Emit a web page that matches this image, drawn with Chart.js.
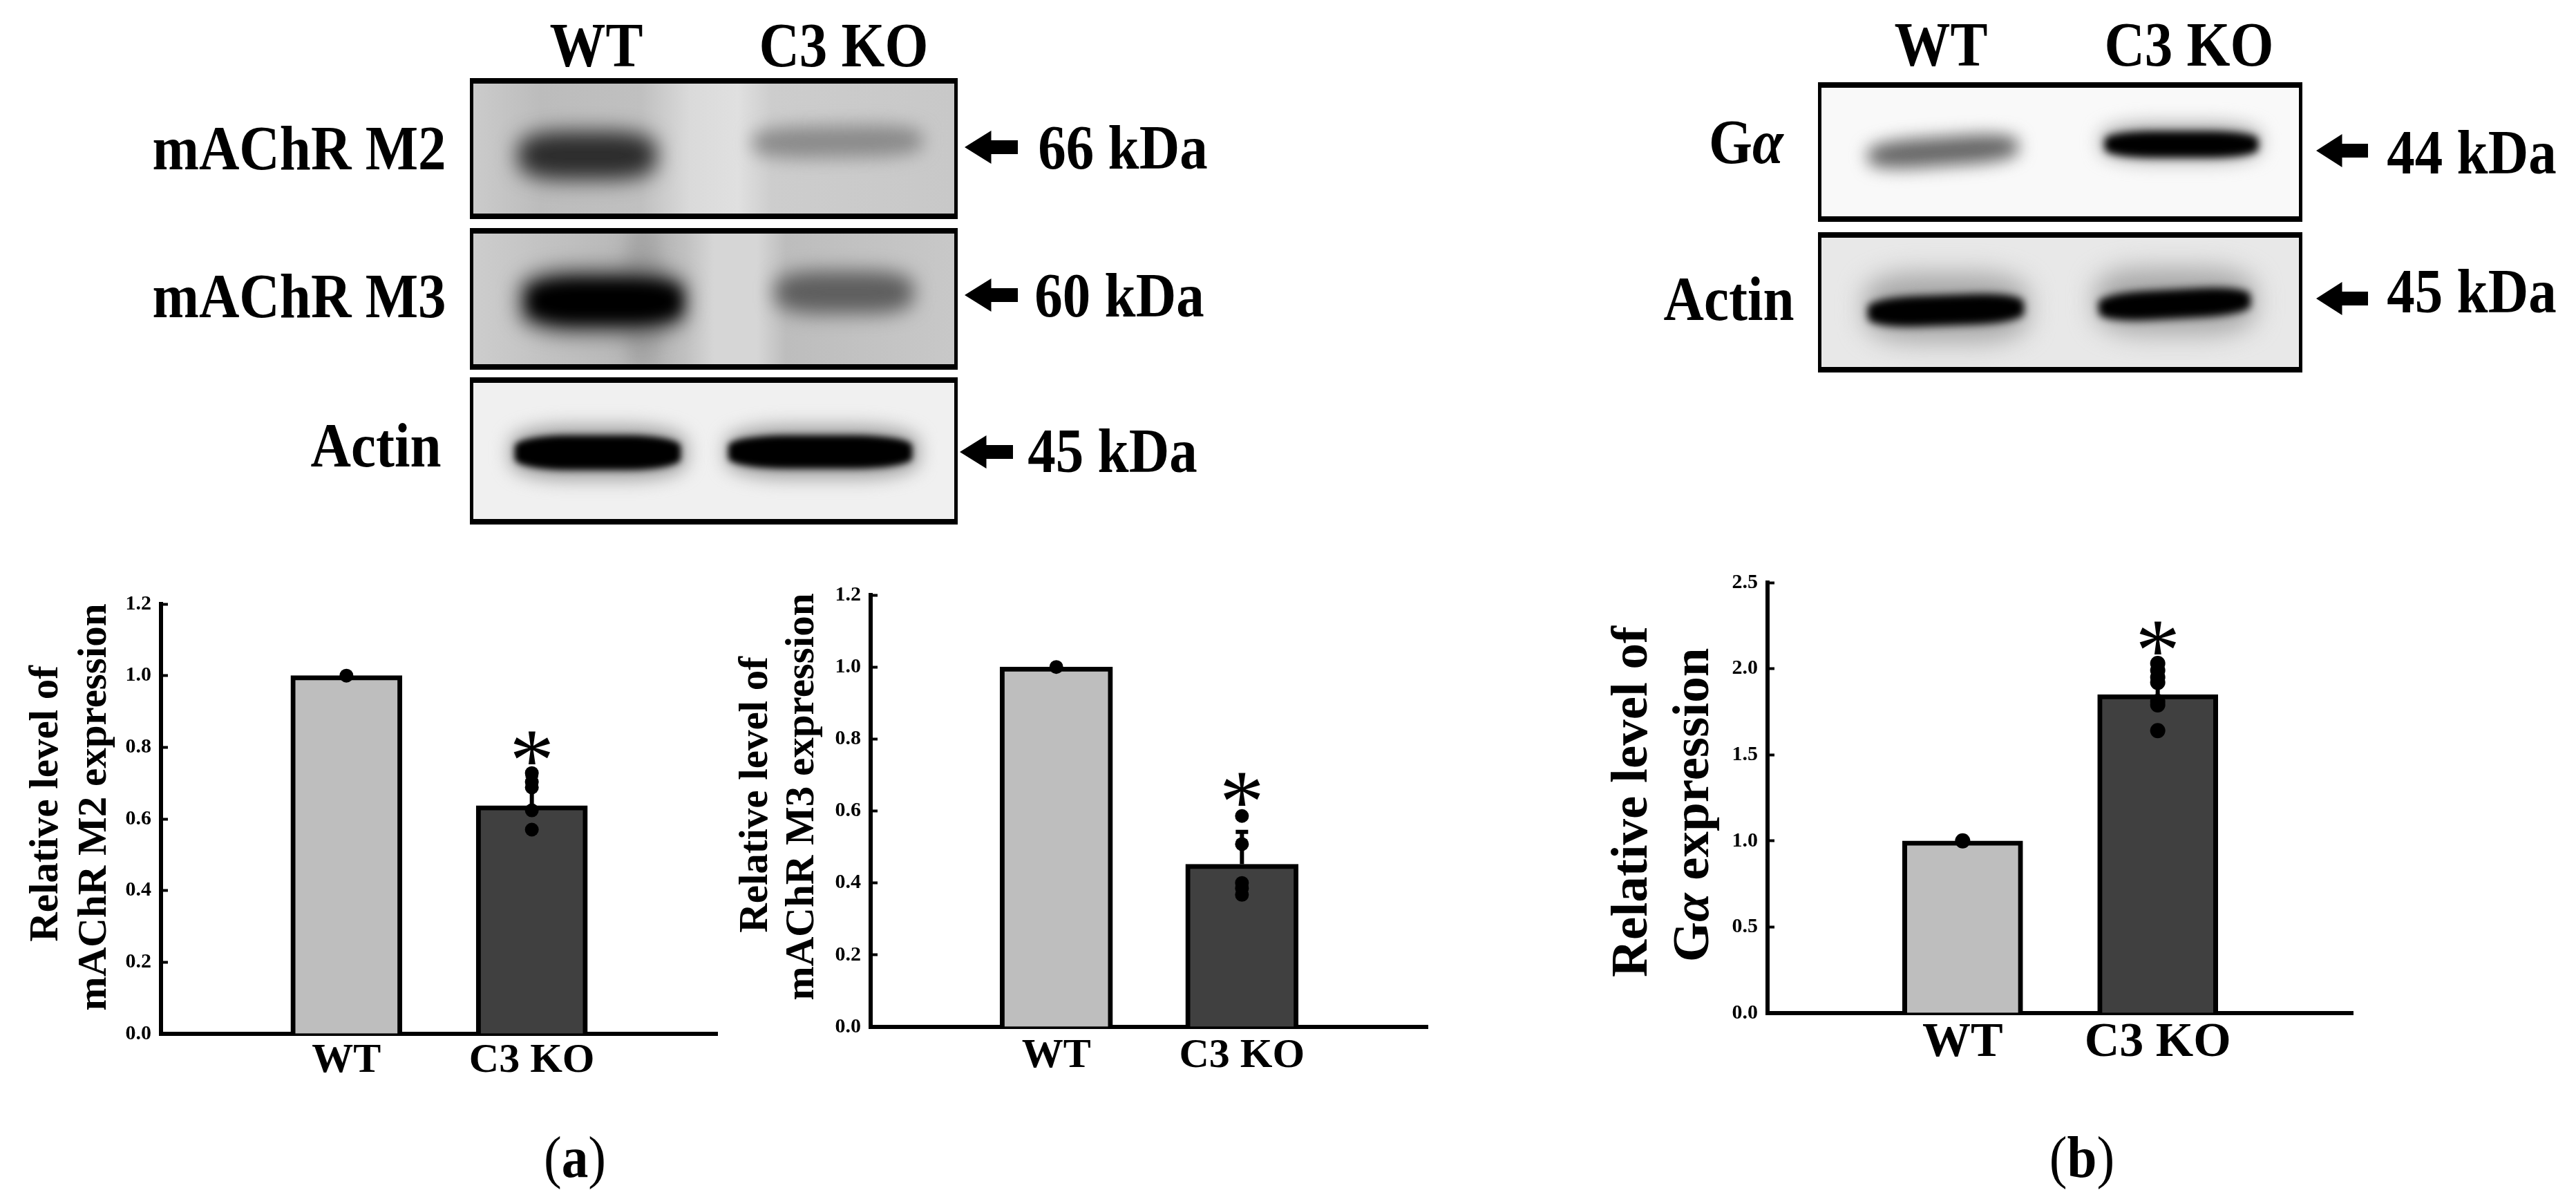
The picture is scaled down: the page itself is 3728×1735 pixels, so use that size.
<!doctype html>
<html>
<head>
<meta charset="utf-8">
<title>mAChR M2/M3 and G-alpha expression</title>
<script src="https://cdn.jsdelivr.net/npm/chart.js@4/dist/chart.umd.min.js"></script>
<style>
html,body{margin:0;padding:0;background:#fff}
#page{position:relative;width:3728px;height:1735px;overflow:hidden;background:#fff;font-family:"Liberation Serif",serif;color:#000}
canvas{position:absolute}
.lbl{position:absolute;font-weight:bold;font-size:91px;line-height:1;white-space:nowrap;transform:translate(-50%,-50%) scaleX(.89)}
.cap{position:absolute;font-size:84px;line-height:1;white-space:nowrap;transform:translate(-50%,-50%) scaleX(.92)}
.cap b{font-weight:bold}
.panel{position:absolute;box-sizing:border-box;border:solid #000;border-width:8px 5px;overflow:hidden}
.band{position:absolute;border-radius:32%}
.arrow{position:absolute;background:#000;clip-path:polygon(0 50%,50% 0,50% 29%,100% 29%,100% 71%,50% 71%,50% 100%)}
</style>
</head>
<body>
<div id="page">
  <canvas id="chartM2"></canvas>
  <canvas id="chartM3"></canvas>
  <canvas id="chartGa"></canvas>
</div>
<script>
// Data
const categories = ['', 'WT', 'C3 KO', ''];

const m2Means = [null, 1.0, 0.637, null];
const m2WtPoints = [1.0];
const m2KoPoints = [0.728, 0.703, 0.688, 0.624, 0.57];
const m2ErrorTop = 0.72;
const m2StarLevel = 0.798;

const m3Means = [null, 1.0, 0.452, null];
const m3WtPoints = [1.0];
const m3KoPoints = [0.586, 0.508, 0.40, 0.385, 0.367];
const m3ErrorTop = 0.542;
const m3StarLevel = 0.66;

const gaMeans = [null, 1.0, 1.85, null];
const gaWtPoints = [1.0];
const gaKoPoints = [2.03, 1.99, 1.95, 1.92, 1.81, 1.79, 1.64];
const gaErrorTop = 2.03;
const gaStarLevel = 2.18;

const barColors = ['#bebebe', '#404040'];

// Blot labels: text, centre x, centre y
const blotLabels = [
  ['WT', 863, 65], ['C3 KO', 1221, 65],
  ['mAChR M2', 433, 214], ['mAChR M3', 433, 428], ['Actin', 544, 644],
  ['66 kDa', 1625, 213], ['60 kDa', 1620, 427], ['45 kDa', 1610, 652],
  ['WT', 2809, 64], ['C3 KO', 3168, 64],
  ['G<i>&alpha;</i>', 2527, 205], ['Actin', 2502, 432],
  ['44 kDa', 3577, 220], ['45 kDa', 3577, 421]
];

const arrows = [[1396, 213, 77], [1396, 427, 77], [1389, 654, 77], [3352, 218, 75], [3352, 432, 75]];

// x, y, w, h, background
const panels = [
  [680, 113, 706, 204, 'linear-gradient(90deg,#cbcbcb 0%,#bcbcbc 14%,#c0c0c0 35%,#dadada 45%,#e0e0e0 55%,#cdcdcd 62%,#c8c8c8 100%)'],
  [680, 330, 706, 205, 'linear-gradient(90deg,#cdcdcd 0%,#c2c2c2 15%,#b4b4b4 38%,#c0c0c0 44%,#d6d6d6 50%,#d6d6d6 59%,#bdbdbd 65%,#c8c8c8 100%)'],
  [680, 546, 706, 213, '#f0f0f0'],
  [2631, 119, 701, 202, '#f9f9f9'],
  [2631, 336, 701, 203, '#e8e8e8']
];

// panel index, x, y, w, h, colour, blur, rotate
const bands = [
  [0, 750, 190, 200, 70, '#2c2c2c', 15, 0],
  [0, 1090, 182, 245, 46, '#8a8a8a', 13, -1],
  [1, 905, 325, 48, 210, '#a4a4a4', 12, 0],
  [1, 750, 388, 245, 96, '#555', 14, 0],
  [1, 765, 405, 220, 62, '#000', 10, 0],
  [1, 1122, 392, 200, 62, '#5e5e5e', 14, 0],
  [2, 738, 616, 256, 78, '#a0a0a0', 13, 0],
  [2, 745, 630, 240, 50, '#000', 5, 0],
  [2, 1050, 616, 280, 76, '#a0a0a0', 13, 0],
  [2, 1054, 630, 266, 48, '#000', 5, 0],
  [3, 2703, 198, 218, 42, '#666', 12, -4],
  [3, 3040, 178, 232, 56, '#aaa', 13, 0],
  [3, 3046, 190, 222, 38, '#000', 6, 0],
  [4, 2698, 395, 238, 100, '#a8a8a8', 18, 0],
  [4, 2703, 427, 226, 44, '#000', 6, -2],
  [4, 3032, 388, 232, 96, '#a8a8a8', 18, 0],
  [4, 3037, 419, 220, 42, '#000', 6, -3]
];

const page = document.getElementById('page');

function addBlots() {
  const panelEls = panels.map(p => {
    const el = document.createElement('div');
    el.className = 'panel';
    el.style.cssText = `left:${p[0]}px;top:${p[1]}px;width:${p[2]}px;height:${p[3]}px;background:${p[4]}`;
    page.appendChild(el);
    return el;
  });
  bands.forEach(b => {
    const p = panels[b[0]];
    const el = document.createElement('div');
    el.className = 'band';
    el.style.cssText = `left:${b[1] - p[0] - 5}px;top:${b[2] - p[1] - 8}px;width:${b[3]}px;height:${b[4]}px;` +
      `background:${b[5]};filter:blur(${b[6]}px);transform:rotate(${b[7]}deg)`;
    panelEls[b[0]].appendChild(el);
  });
  blotLabels.forEach(l => {
    const el = document.createElement('div');
    el.className = 'lbl';
    el.style.cssText = `left:${l[1]}px;top:${l[2]}px`;
    el.innerHTML = l[0];
    page.appendChild(el);
  });
  arrows.forEach(a => {
    const el = document.createElement('div');
    el.className = 'arrow';
    el.style.cssText = `left:${a[0]}px;top:${a[1] - 24}px;width:${a[2]}px;height:48px`;
    page.appendChild(el);
  });
  [['(<b>a</b>)', 832, 1675], ['(<b>b</b>)', 3013, 1675]].forEach(c => {
    const el = document.createElement('div');
    el.className = 'cap';
    el.style.cssText = `left:${c[1]}px;top:${c[2]}px`;
    el.innerHTML = c[0];
    page.appendChild(el);
  });
}

// Error bar, asterisk and rotated y title (title needs a mixed italic run in the G-alpha chart)
const decorPlugin = {
  id: 'decor',
  afterDatasetDraw(chart, args, opts) {
    if (args.index !== 0) return;
    const { x, y } = chart.scales;
    const cx = x.getPixelForValue(2);
    const top = y.getPixelForValue(opts.errorTop);
    const ctx = chart.ctx;
    ctx.save();
    ctx.strokeStyle = '#000';
    ctx.lineWidth = 6;
    ctx.beginPath();
    ctx.moveTo(cx, y.getPixelForValue(opts.mean));
    ctx.lineTo(cx, top);
    ctx.moveTo(cx - 9, top);
    ctx.lineTo(cx + 9, top);
    ctx.stroke();
    ctx.restore();
  },
  afterDraw(chart, args, opts) {
    const { x, y } = chart.scales;
    const ctx = chart.ctx;
    ctx.save();
    ctx.fillStyle = '#000';
    ctx.textAlign = 'center';
    ctx.textBaseline = 'alphabetic';
    ctx.font = `${opts.starSize}px "Liberation Serif"`;
    const m = ctx.measureText('*');
    ctx.fillText('*', x.getPixelForValue(2), y.getPixelForValue(opts.starLevel) + (m.actualBoundingBoxAscent - m.actualBoundingBoxDescent) / 2);
    ctx.restore();

    opts.titleLines.forEach(line => {
      ctx.save();
      ctx.translate(line.x, line.y);
      ctx.rotate(-Math.PI / 2);
      ctx.textAlign = 'left';
      ctx.textBaseline = 'alphabetic';
      const fontOf = run => `${run[1] ? 'italic ' : ''}bold ${opts.titleSize}px "Liberation Serif"`;
      let total = 0;
      line.runs.forEach(run => { ctx.font = fontOf(run); total += ctx.measureText(run[0]).width; });
      let pos = -total / 2;
      line.runs.forEach(run => {
        ctx.font = fontOf(run);
        ctx.fillText(run[0], pos, 0);
        pos += ctx.measureText(run[0]).width;
      });
      ctx.restore();
    });
  }
};

function makeChart(id, c) {
  const canvas = document.getElementById(id);
  canvas.width = c.w;
  canvas.height = c.h;
  canvas.style.left = c.left + 'px';
  canvas.style.top = c.top + 'px';
  const toPoints = (label, list) => list.map(v => ({ x: label, y: v }));
  return new Chart(canvas, {
    type: 'bar',
    data: {
      labels: categories,
      datasets: [
        {
          data: c.means,
          backgroundColor: [null, barColors[0], barColors[1], null],
          borderColor: '#000',
          borderWidth: 7,
          barThickness: c.barW,
          order: 2
        },
        {
          type: 'line',
          showLine: false,
          data: toPoints('WT', c.wt).concat(toPoints('C3 KO', c.ko)),
          pointRadius: c.pointR,
          pointBackgroundColor: '#000',
          pointBorderWidth: 0,
          clip: false,
          order: 1
        }
      ]
    },
    options: {
      responsive: false,
      animation: false,
      layout: { padding: { top: c.axisTop - c.top, right: c.left + c.w - c.axisRight, left: 0, bottom: 0 } },
      plugins: {
        legend: { display: false },
        tooltip: { enabled: false },
        decor: {
          mean: c.means[2], errorTop: c.errorTop, starLevel: c.starLevel, starSize: c.starSize,
          titleSize: c.titleSize, titleLines: c.titleLines
        }
      },
      scales: {
        x: {
          offset: false,
          grid: { display: false },
          border: { color: '#000', width: 6 },
          afterFit: s => { s.height = c.top + c.h - c.axisBottom; },
          ticks: {
            color: '#000', padding: c.xPad, autoSkip: false, maxRotation: 0,
            font: { family: 'Liberation Serif', weight: 'bold', size: c.xFont }
          }
        },
        y: {
          min: 0,
          max: c.yMax,
          grid: { drawOnChartArea: false, tickLength: -10, tickWidth: 4, tickColor: '#000' },
          border: { color: '#000', width: 6 },
          afterFit: s => { s.width = c.axisLeft - c.left; },
          ticks: {
            stepSize: c.yStep, color: '#000', padding: 24,
            callback: v => v.toFixed(1),
            font: { family: 'Liberation Serif', weight: 'bold', size: 30 }
          }
        }
      }
    },
    plugins: [decorPlugin]
  });
}

addBlots();

makeChart('chartM2', {
  left: 0, top: 820, w: 1060, h: 800,
  axisLeft: 233, axisTop: 874, axisRight: 1038, axisBottom: 1496,
  means: m2Means, wt: m2WtPoints, ko: m2KoPoints, errorTop: m2ErrorTop, starLevel: m2StarLevel,
  yMax: 1.2, yStep: 0.2, barW: 161, xFont: 60, xPad: -5, pointR: 10, starSize: 130, titleSize: 59,
  titleLines: [
    { x: 83, y: 343, runs: [['Relative level of', false]] },
    { x: 153, y: 348, runs: [['mAChR M2 expression', false]] }
  ]
});

makeChart('chartM3', {
  left: 1040, top: 810, w: 1040, h: 800,
  axisLeft: 1260, axisTop: 861, axisRight: 2066, axisBottom: 1486,
  means: m3Means, wt: m3WtPoints, ko: m3KoPoints, errorTop: m3ErrorTop, starLevel: m3StarLevel,
  yMax: 1.2, yStep: 0.2, barW: 163, xFont: 60, xPad: -2, pointR: 10, starSize: 130, titleSize: 59,
  titleLines: [
    { x: 70, y: 340, runs: [['Relative level of', false]] },
    { x: 137, y: 343, runs: [['mAChR M3 expression', false]] }
  ]
});

makeChart('chartGa', {
  left: 2320, top: 790, w: 1100, h: 820,
  axisLeft: 2558, axisTop: 843, axisRight: 3405, axisBottom: 1466,
  means: gaMeans, wt: gaWtPoints, ko: gaKoPoints, errorTop: gaErrorTop, starLevel: gaStarLevel,
  yMax: 2.5, yStep: 0.5, barW: 174, xFont: 70, xPad: -6, pointR: 11, starSize: 130, titleSize: 75,
  titleLines: [
    { x: 63, y: 370, runs: [['Relative level of', false]] },
    { x: 152, y: 375, runs: [['G', false], ['\u03B1', true], [' expression', false]] }
  ]
});
</script>
</body>
</html>
